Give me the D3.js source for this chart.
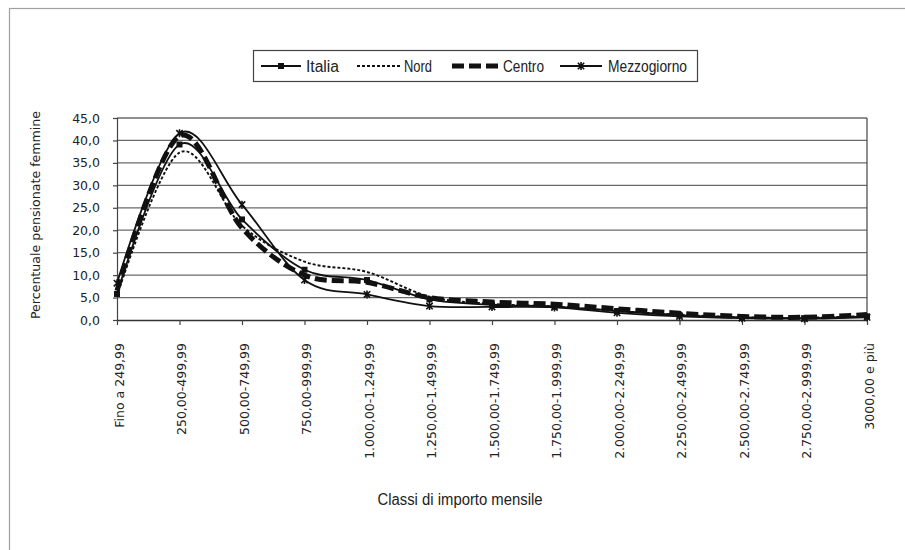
<!DOCTYPE html>
<html>
<head>
<meta charset="utf-8">
<script src="https://cdn.jsdelivr.net/npm/d3@7"></script>
<style>
  html, body { margin: 0; padding: 0; background: #fff; }
  svg { display: block; }
  .tick text { font-family: "DejaVu Sans", Verdana, sans-serif; font-size: 12.5px; fill: #222; }
  .narrow { font-family: "Liberation Sans", Arial, sans-serif; fill: #222; }
</style>
</head>
<body>
<svg id="chart" width="905" height="550"></svg>
<script>
// Monthly amount classes (euro)
const categories = [
  "Fino a 249,99", "250,00-499,99", "500,00-749,99", "750,00-999,99",
  "1.000,00-1.249,99", "1.250,00-1.499,99", "1.500,00-1.749,99", "1.750,00-1.999,99",
  "2.000,00-2.249,99", "2.250,00-2.499,99", "2.500,00-2.749,99", "2.750,00-2.999,99",
  "3000,00 e più"
];

// Share of female pensioners per class (%)
const italia      = [5.8, 39.1, 22.4, 11.2, 8.9, 4.6, 3.4, 3.0, 2.0, 1.1, 0.6, 0.4, 0.8];
const nord        = [5.3, 37.3, 21.0, 13.0, 10.7, 5.2, 3.6, 3.0, 2.0, 1.2, 0.6, 0.5, 0.9];
const centro      = [6.5, 41.0, 20.5, 10.0, 8.4, 5.0, 4.0, 3.5, 2.5, 1.5, 0.8, 0.6, 1.2];
const mezzogiorno = [8.2, 41.6, 25.7, 8.9, 5.7, 3.1, 2.9, 2.8, 1.6, 0.8, 0.4, 0.3, 0.6];

const seriesNames = ["Italia", "Nord", "Centro", "Mezzogiorno"];
const yTicks = [0, 5, 10, 15, 20, 25, 30, 35, 40, 45];
const yTitle = "Percentuale pensionate femmine";
const xTitle = "Classi di importo mensile";

const series = [
  { name: seriesNames[0], values: italia,      width: 1.8, dash: null,   marker: "square" },
  { name: seriesNames[1], values: nord,        width: 1.9, dash: "3,2",  marker: null },
  { name: seriesNames[2], values: centro,      width: 5,   dash: "12,5", marker: null },
  { name: seriesNames[3], values: mezzogiorno, width: 1.8, dash: null,   marker: "star" }
];

const svg = d3.select("#chart");
const ink = "#111";

// outer chart frame
svg.append("rect")
  .attr("x", 9.5).attr("y", 8.5).attr("width", 920).attr("height", 560)
  .attr("fill", "none").attr("stroke", "#a0a0a0").attr("stroke-width", 1.2);

const plot = { left: 117, right: 867, top: 118, bottom: 320 };

const x = d3.scalePoint().domain(categories).range([plot.left, plot.right]);
const y = d3.scaleLinear().domain([0, 45]).range([plot.bottom, plot.top]);

const itLocale = d3.formatLocale({ decimal: ",", thousands: ".", grouping: [3], currency: ["", "€"] });
const fmt = itLocale.format(".1f");

// horizontal gridlines
svg.append("g")
  .selectAll("line")
  .data(yTicks.filter(d => d > 0))
  .join("line")
  .attr("x1", plot.left).attr("x2", plot.right)
  .attr("y1", d => y(d)).attr("y2", d => y(d))
  .attr("stroke", "#6a6a6a").attr("stroke-width", 1.3);

// right border of the plot area
svg.append("line")
  .attr("x1", plot.right).attr("x2", plot.right)
  .attr("y1", plot.top).attr("y2", plot.bottom)
  .attr("stroke", "#444").attr("stroke-width", 1.2);

// y axis
const yAxis = svg.append("g")
  .attr("transform", `translate(${plot.left},0)`)
  .call(d3.axisLeft(y).tickValues(yTicks).tickFormat(fmt).tickSize(4).tickPadding(13));
yAxis.select(".domain").attr("stroke", "#444").attr("stroke-width", 1.2);
yAxis.selectAll(".tick line").attr("stroke", "#444").attr("stroke-width", 1.2);

// x axis
const xAxis = svg.append("g")
  .attr("transform", `translate(0,${plot.bottom})`)
  .call(d3.axisBottom(x).tickSize(5).tickSizeOuter(0));
xAxis.select(".domain").attr("stroke", "#333").attr("stroke-width", 1.4);
xAxis.selectAll(".tick line").attr("stroke", "#444").attr("stroke-width", 1.2);
xAxis.selectAll(".tick text")
  .attr("transform", "rotate(-90)")
  .attr("text-anchor", "end")
  .attr("x", -23)
  .attr("y", 1.5)
  .attr("dy", "0.36em");

// axis titles
svg.append("text")
  .attr("transform", `translate(40,${(plot.top + plot.bottom) / 2 - 4}) rotate(-90)`)
  .attr("text-anchor", "middle")
  .attr("font-family", "DejaVu Sans, Verdana, sans-serif")
  .attr("font-size", 12.6)
  .attr("fill", "#222")
  .text(yTitle);

svg.append("text")
  .attr("class", "narrow")
  .attr("x", 460).attr("y", 505)
  .attr("text-anchor", "middle")
  .attr("font-size", 16)
  .attr("textLength", 165)
  .attr("lengthAdjust", "spacingAndGlyphs")
  .text(xTitle);

// lines
const line = d3.line()
  .x((d, i) => x(categories[i]))
  .y(d => y(d))
  .curve(d3.curveCardinal.tension(0));

const starPath = "M-3.2,-3.2L3.2,3.2M-3.2,3.2L3.2,-3.2M0,-4L0,4";

function drawMarker(g, type, cx, cy) {
  if (type === "square") {
    g.append("rect")
      .attr("x", cx - 3).attr("y", cy - 3).attr("width", 6).attr("height", 6)
      .attr("fill", ink);
  } else if (type === "star") {
    g.append("path")
      .attr("d", starPath)
      .attr("transform", `translate(${cx},${cy})`)
      .attr("stroke", ink).attr("stroke-width", 1.6).attr("fill", "none");
  }
}

series.forEach(s => {
  const g = svg.append("g");
  g.append("path")
    .attr("d", line(s.values))
    .attr("fill", "none")
    .attr("stroke", ink)
    .attr("stroke-width", s.width)
    .attr("stroke-dasharray", s.dash)
    .attr("stroke-linejoin", "round");
  if (s.marker) {
    s.values.forEach((v, i) => drawMarker(g, s.marker, x(categories[i]), y(v)));
  }
});

// legend
const legend = svg.append("g");
legend.append("rect")
  .attr("x", 253.5).attr("y", 50.5).attr("width", 444).attr("height", 31)
  .attr("fill", "#fff").attr("stroke", "#444").attr("stroke-width", 1.2);

const legendPos = [
  { x1: 261, x2: 301, tx: 306, tw: 33 },
  { x1: 357, x2: 401, tx: 404, tw: 28 },
  { x1: 452, x2: 498, tx: 503, tw: 41 },
  { x1: 560, x2: 602, tx: 608, tw: 79 }
];

series.forEach((s, i) => {
  const p = legendPos[i];
  const ly = 66;
  legend.append("line")
    .attr("x1", p.x1).attr("x2", p.x2).attr("y1", ly).attr("y2", ly)
    .attr("stroke", ink)
    .attr("stroke-width", s.width)
    .attr("stroke-dasharray", s.dash);
  if (s.marker) drawMarker(legend, s.marker, (p.x1 + p.x2) / 2, ly);
  legend.append("text")
    .attr("class", "narrow")
    .attr("x", p.tx).attr("y", ly + 6)
    .attr("font-size", 16)
    .attr("textLength", p.tw)
    .attr("lengthAdjust", "spacingAndGlyphs")
    .text(s.name);
});
</script>
</body>
</html>
